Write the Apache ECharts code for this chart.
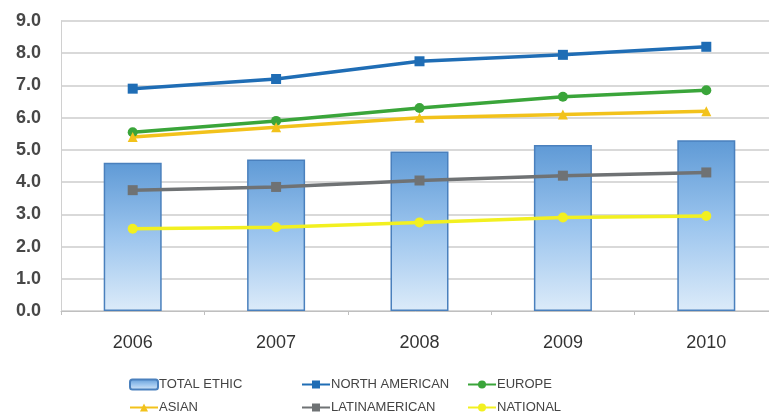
<!DOCTYPE html>
<html lang="en">
<head>
    <meta charset="UTF-8">
    <script src="https://cdn.jsdelivr.net/npm/echarts@6/dist/echarts.min.js"></script>
    <title>Ethnic chart</title>
    <style>
        html, body { margin: 0; padding: 0; background: #fff; }
        #main { width: 769px; height: 416px; }
    </style>
</head>
<body>
<div id="main"></div>
<script type="text/javascript">
    var years = ['2006', '2007', '2008', '2009', '2010'];
    var yTicks = ['0.0', '1.0', '2.0', '3.0', '4.0', '5.0', '6.0', '7.0', '8.0', '9.0'];
    var totalEthic = [4.6, 4.7, 4.95, 5.15, 5.3];
    var northAmerican = [6.9, 7.2, 7.75, 7.95, 8.2];
    var europe = [5.55, 5.9, 6.3, 6.65, 6.85];
    var asian = [5.4, 5.7, 6.0, 6.1, 6.2];
    var latinAmerican = [3.75, 3.85, 4.05, 4.2, 4.3];
    var national = [2.55, 2.6, 2.75, 2.9, 2.95];

    var font = 'Liberation Sans, Arial, sans-serif';

    function lineSeries(name, data, color, symbol) {
        return {
            name: name,
            type: 'line',
            data: data,
            symbol: symbol,
            symbolSize: 10,
            lineStyle: { color: color, width: 3.5 },
            itemStyle: { color: color },
            z: 3
        };
    }

    function legendItem(name, left, top) {
        return {
            data: [name],
            left: left,
            top: top,
            itemWidth: 28,
            itemHeight: 10,
            itemGap: 2,
            textStyle: { fontFamily: font, fontSize: 13, color: '#444', padding: [0, 0, 0, -4] }
        };
    }

    var myChart = echarts.init(document.getElementById('main'));
    var option = {
        animation: false,
        grid: { left: 61, right: -9, top: 21, bottom: 105, outerBoundsMode: 'none' },
        legend: [
            legendItem('TOTAL ETHIC', 124, 373),
            legendItem('NORTH AMERICAN', 296, 373),
            legendItem('EUROPE', 462, 373),
            legendItem('ASIAN', 124, 396),
            legendItem('LATINAMERICAN', 296, 396),
            legendItem('NATIONAL', 462, 396)
        ],
        xAxis: {
            type: 'category',
            data: years,
            axisLine: { lineStyle: { color: '#bfbfbf', width: 1 } },
            axisTick: { show: true, length: 4, lineStyle: { color: '#bfbfbf' } },
            axisLabel: { fontFamily: font, fontSize: 18, color: '#333', margin: 23 }
        },
        yAxis: {
            type: 'value',
            min: 0,
            max: 9,
            interval: 1,
            axisLine: { show: true, lineStyle: { color: '#d0d0d0' } },
            splitLine: { lineStyle: { color: '#d9d9d9', width: 2 } },
            axisLabel: {
                fontFamily: font, fontSize: 18, fontWeight: 'bold', color: '#474747', margin: 20,
                formatter: function (v) { return yTicks[Math.round(v)]; }
            }
        },
        series: [
            {
                name: 'TOTAL ETHIC',
                type: 'bar',
                data: totalEthic,
                barWidth: 58,
                itemStyle: {
                    color: new echarts.graphic.LinearGradient(0, 0, 0, 1, [
                        { offset: 0, color: '#5f9ad6' },
                        { offset: 0.5, color: '#9cc5ee' },
                        { offset: 1, color: '#dcebf9' }
                    ]),
                    borderColor: '#4a80bd',
                    borderWidth: 1.5
                },
                z: 2
            },
            lineSeries('NORTH AMERICAN', northAmerican, '#1f6db5', 'rect'),
            lineSeries('EUROPE', europe, '#3aa53a', 'circle'),
            lineSeries('ASIAN', asian, '#f2c21b', 'triangle'),
            lineSeries('LATINAMERICAN', latinAmerican, '#6f7274', 'rect'),
            lineSeries('NATIONAL', national, '#f2f020', 'circle')
        ]
    };
    myChart.setOption(option);
</script>
</body>
</html>
